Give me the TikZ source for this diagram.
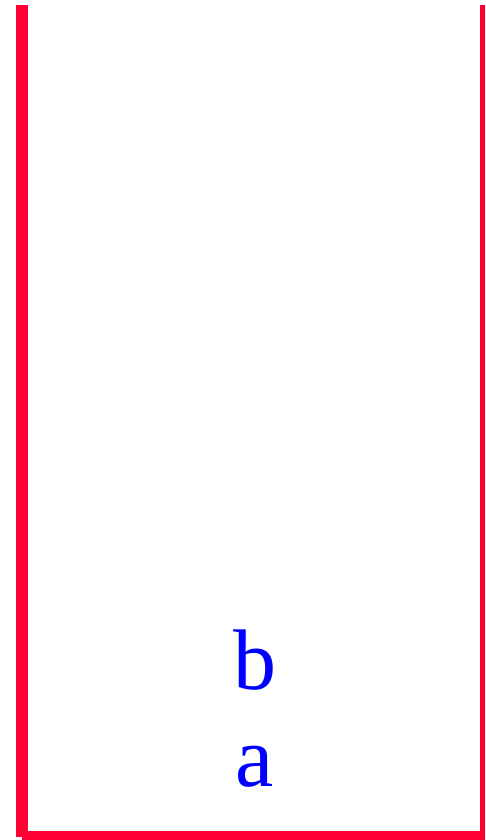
\documentclass[tikz,border=0pt]{standalone}
\usepackage{fontspec}
\setmainfont{Liberation Serif}
\definecolor{wallred}{HTML}{FF0033}
\definecolor{letterblue}{HTML}{0000FF}
\tikzset{
  wall/.style={fill=wallred, draw=none},
  letter/.style={text=letterblue, anchor=base, inner sep=0pt, font=\fontsize{86}{86}\selectfont}
}
\begin{document}
\begin{tikzpicture}[x=1pt,y=1pt]
\useasboundingbox (0,0) rectangle (485,840);
\fill[white] (0,0) rectangle (485,840);
% left wall
\fill[wall] (16,3) rectangle (28,835);
% bottom
\fill[wall] (22,0) rectangle (485,9);
% right wall
\fill[wall] (480,9) rectangle (485,835);
\node[letter] (b) at (255,150) {b};
\node[letter] (a) at (255,53) {a};
\end{tikzpicture}
\end{document}
